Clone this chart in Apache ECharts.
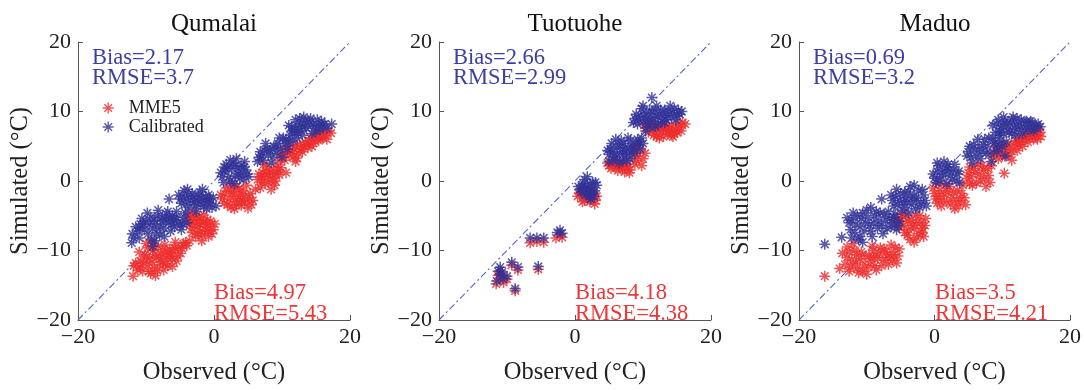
<!DOCTYPE html>
<html>
<head>
<meta charset="utf-8">
<script src="https://cdn.jsdelivr.net/npm/echarts@6/dist/echarts.min.js"></script>
<style>
html,body{margin:0;padding:0;background:#fff;}
#c{width:1084px;height:390px;}
</style>
</head>
<body>
<div id="c"></div>
<script>
// ---------- data ----------
const stations = ['Qumalai', 'Tuotuohe', 'Maduo'];
const statsCalibrated = [['2.17', '3.7'], ['2.66', '2.99'], ['0.69', '3.2']];
const statsMME5 = [['4.97', '5.43'], ['4.18', '4.38'], ['3.5', '4.21']];
const xTicks = [-20, 0, 20];
const yTicks = [-20, -10, 0, 10, 20];
const diagonal = [[-20, -20], [20, 20]];

const qumalaiMME5 = [
[-11.9,-13.7],[-11.8,-12.2],[-11.2,-12.8],[-10.8,-11.5],[-10.5,-13.0],[-10.2,-10.6],[-9.8,-12.1],[-9.5,-11.2],[-9.3,-13.3],[-9.0,-10.0],[-8.8,-12.5],[-8.5,-11.0],[-8.2,-9.4],[-8.0,-12.0],[-7.8,-10.5],[-7.5,-11.6],[-7.2,-9.2],[-7.0,-10.8],[-6.8,-12.2],[-6.5,-9.8],[-6.2,-11.1],[-6.0,-10.2],[-5.7,-8.8],[-5.5,-11.5],[-5.2,-9.6],[-4.9,-10.4],[-4.5,-9.0],[-4.0,-9.3],[-3.6,-8.6],[-10.0,-9.0],[-9.2,-8.6],[-11.0,-10.2],[-8.6,-13.6],[-7.4,-12.8],
[-11.5,-11.8],[-10.9,-12.4],[-10.4,-11.8],[-9.9,-10.9],[-9.6,-13.0],[-9.1,-11.7],[-8.7,-10.6],[-8.3,-12.9],[-7.9,-11.2],[-7.6,-9.9],[-7.1,-11.9],[-6.9,-10.2],[-6.4,-10.9],[-6.1,-12.3],[-5.8,-9.6],[-5.3,-10.8],[-4.7,-9.7],[-4.2,-8.9],[-9.7,-9.6],[-8.9,-9.4],
[-3.8,-5.0],[-3.5,-6.2],[-3.2,-7.4],[-3.0,-5.6],[-2.7,-8.0],[-2.5,-6.6],[-2.2,-5.2],[-2.0,-7.2],[-1.8,-8.6],[-1.6,-6.0],[-1.3,-7.0],[-1.0,-5.6],[-0.8,-8.0],[-0.6,-6.5],[-0.3,-7.6],[0.1,-6.2],[-2.9,-4.7],[-1.5,-4.9],
[-3.6,-5.6],[-3.3,-6.8],[-2.8,-6.0],[-2.4,-7.6],[-2.1,-6.2],[-1.9,-5.6],[-1.7,-7.8],[-1.2,-6.2],[-0.9,-7.2],[-0.5,-5.8],[-0.1,-7.0],[-2.6,-5.2],[-3.4,-4.8],
[1.0,-2.0],[1.5,-3.2],[1.8,-1.0],[2.2,-2.6],[2.5,-3.8],[2.8,-1.6],[3.1,-2.9],[3.4,-0.8],[3.7,-2.2],[4.0,-3.5],[4.3,-1.4],[4.6,-2.6],[5.0,-3.9],[5.3,-1.8],[5.7,-2.8],[6.1,-1.2],[3.0,-4.0],[4.8,-0.6],
[1.2,-2.6],[1.6,-1.8],[2.0,-3.4],[2.4,-1.4],[2.9,-2.2],[3.3,-3.4],[3.6,-1.2],[3.9,-2.8],[4.2,-2.0],[4.5,-3.2],[5.2,-2.4],[5.5,-3.4],[2.6,-0.4],
[6.4,0.2],[6.8,-1.0],[7.2,1.2],[7.5,-0.4],[7.8,2.0],[8.1,0.6],[8.4,-1.2],[8.7,1.6],[9.0,0.0],[9.3,2.4],[9.6,0.9],[8.0,-0.2],[9.8,1.9],[10.6,1.2],
[6.6,1.0],[7.0,-0.2],[7.4,0.6],[7.7,1.4],[8.2,1.2],[8.6,0.4],[8.9,-0.6],[9.1,1.0],[9.5,1.6],[7.3,2.4],[6.9,0.6],
[9.8,3.2],[10.2,4.4],[10.6,3.6],[11.0,5.0],[11.4,3.9],[11.8,4.6],[12.2,3.3],[12.6,5.2],[13.0,4.2],[13.4,5.6],[13.8,4.8],[14.2,6.2],[14.6,5.4],[15.0,6.8],[15.4,5.8],[15.8,6.4],[16.2,7.0],[16.6,6.0],[17.2,6.9],[12.0,2.8],
[10.0,3.8],[10.4,3.0],[10.8,4.2],[11.2,4.4],[11.6,3.4],[12.0,5.0],[12.4,4.0],[12.8,4.6],[13.2,5.0],[13.6,5.2],[14.0,5.8],[14.4,5.0],[14.8,6.2],[15.2,6.0],[15.6,6.8],[16.0,6.2],[16.4,6.6],[16.9,7.2]
];
const qumalaiCalibrated = [
[-12.1,-8.9],[-12.0,-7.6],[-11.5,-6.6],[-11.0,-8.2],[-10.6,-5.4],[-10.2,-7.0],[-9.8,-4.6],[-9.5,-6.2],[-9.2,-8.4],[-8.8,-5.6],[-8.5,-7.4],[-8.2,-4.2],[-7.9,-6.6],[-7.6,-5.2],[-7.3,-8.0],[-7.0,-4.8],[-6.7,-6.0],[-6.4,-7.2],[-6.1,-5.0],[-5.8,-6.6],[-5.5,-4.4],[-5.2,-5.8],[-4.8,-7.0],[-4.4,-5.2],[-4.0,-6.0],[-9.0,-9.4],[-10.8,-6.2],
[-11.8,-8.2],[-11.2,-7.2],[-10.9,-6.8],[-10.4,-6.2],[-10.0,-5.8],[-9.7,-7.6],[-9.3,-5.2],[-9.0,-6.8],[-8.6,-6.2],[-8.3,-5.0],[-8.0,-7.8],[-7.7,-5.8],[-7.4,-6.8],[-7.1,-5.6],[-6.8,-4.4],[-6.5,-5.4],[-6.2,-6.2],[-5.9,-5.6],[-5.6,-5.2],[-5.0,-6.4],[-4.6,-6.2],[-4.2,-4.6],[-8.7,-8.6],
[-6.6,-2.6],[-5.2,-2.0],[-4.8,-3.2],[-4.4,-1.4],[-4.0,-2.6],[-3.6,-3.8],[-3.2,-1.8],[-2.9,-3.0],[-2.6,-4.4],[-2.3,-2.2],[-2.0,-3.4],[-1.7,-1.2],[-1.4,-2.8],[-1.1,-4.0],[-0.8,-2.0],[-0.5,-3.2],[-0.1,-2.4],[0.3,-3.6],
[-5.0,-2.6],[-4.6,-2.2],[-4.2,-3.4],[-3.8,-2.0],[-3.4,-2.8],[-3.0,-2.2],[-2.7,-3.6],[-2.4,-2.8],[-2.1,-1.6],[-1.8,-2.6],[-1.5,-3.6],[-1.2,-2.2],[-0.9,-3.0],[-0.6,-2.6],[-0.3,-3.8],[-3.9,-1.2],
[1.0,1.2],[1.4,-0.2],[1.8,2.4],[2.2,0.6],[2.6,1.8],[3.0,-0.4],[3.3,3.2],[3.6,1.0],[4.0,2.2],[4.3,0.2],[4.7,1.6],[5.1,0.6],[2.4,3.0],[4.5,2.8],
[1.2,0.6],[1.6,1.4],[2.0,1.8],[2.4,0.0],[2.8,2.6],[3.2,0.8],[3.5,1.8],[3.8,0.4],[4.1,1.2],[4.4,2.0],[4.9,1.0],[1.5,2.0],[3.1,2.2],
[6.4,2.8],[6.8,4.2],[7.2,3.0],[7.6,5.4],[8.0,3.8],[8.4,2.6],[8.8,5.0],[9.2,4.0],[9.6,6.2],[10.0,3.4],[10.4,5.4],[10.8,4.6],[11.2,6.6],[11.6,5.8],[11.0,8.0],[11.5,7.2],[12.0,8.8],[12.4,7.0],[12.8,8.2],[13.2,9.2],[13.6,7.6],[14.0,8.6],[14.4,6.8],[14.8,7.8],[15.2,8.8],[15.6,7.4],[16.0,8.0],[16.6,7.6],[17.3,8.2],[12.2,6.2],[13.0,6.6],
[6.6,3.4],[7.0,3.6],[7.4,4.4],[7.8,4.6],[8.2,4.4],[8.6,3.4],[9.0,4.8],[9.4,5.4],[9.8,4.6],[10.2,6.2],[10.6,6.0],[11.0,5.6],[11.4,7.8],[11.8,7.0],[12.2,8.0],[12.6,9.0],[13.0,7.8],[13.4,8.6],[13.8,8.0],[14.2,9.0],[14.6,8.2],[15.0,7.2],[15.4,8.0],[15.8,8.6],[16.3,8.2],[12.0,7.4],[12.8,7.2]
];

const tuotuoheMME5 = [
[-11.3,-13.6],[-11.0,-14.0],[-11.6,-14.8],[-10.5,-14.6],[-10.0,-14.1],[-11.0,-12.9],[-10.7,-13.6],[-9.3,-12.1],[-8.4,-12.8],[-5.4,-12.7],[-8.8,-15.8],[-6.6,-8.9],[-5.6,-8.7],[-4.6,-8.8],[-2.8,-8.2],[-2.2,-7.7],[-1.9,-8.1],
[0.4,-2.2],[0.9,-1.4],[1.4,-2.8],[1.8,-1.6],[2.2,-3.0],[2.6,-2.0],[2.9,-3.3],[3.2,-2.2],[1.5,-1.0],[2.4,-1.2],
[0.7,-1.8],[1.2,-2.2],[1.7,-2.4],[2.0,-2.0],[2.5,-2.6],[2.8,-1.6],[3.0,-2.8],[1.1,-3.0],
[4.8,2.6],[5.3,1.8],[5.8,2.4],[6.3,1.5],[6.8,2.2],[7.3,1.3],[7.8,2.0],[8.1,1.6],[8.6,4.6],[9.0,3.0],[9.4,5.2],[9.8,2.2],[10.3,4.0],[8.8,2.4],
[5.0,2.2],[5.5,2.6],[6.0,1.9],[6.5,2.4],[7.0,1.7],[7.5,2.2],[8.0,1.2],[8.4,3.8],[8.8,5.0],[9.2,3.6],[9.6,4.4],[10.0,3.2],[6.2,2.8],[7.2,2.6],
[10.2,8.0],[10.8,7.0],[11.2,8.4],[11.6,6.6],[12.0,7.6],[12.4,6.2],[12.8,7.2],[13.2,8.2],[13.6,6.8],[14.0,7.6],[14.4,6.4],[14.8,7.4],[15.2,8.2],[15.6,7.2],[16.2,8.2],[13.0,6.4],
[10.4,7.6],[10.6,8.4],[11.0,7.8],[11.4,7.2],[11.8,8.0],[12.2,6.8],[12.6,7.8],[13.0,7.4],[13.4,7.6],[13.8,7.2],[14.2,8.0],[14.6,6.8],[15.0,7.0],[15.4,7.8],[15.8,8.4],[12.0,6.4],[14.2,6.6]
];
const tuotuoheCalibrated = [
[-11.3,-13.0],[-11.0,-13.4],[-11.5,-14.4],[-10.6,-14.1],[-10.0,-13.7],[-11.0,-12.4],[-10.7,-13.1],[-9.3,-11.7],[-8.4,-12.4],[-5.4,-12.3],[-8.8,-15.5],[-6.6,-8.2],[-5.6,-8.2],[-4.6,-8.2],[-2.6,-7.4],[-2.2,-7.1],[-1.9,-7.5],
[0.5,-0.8],[0.9,-1.6],[1.3,-0.4],[1.6,-2.0],[2.0,-1.0],[2.3,-2.6],[2.6,-0.2],[2.9,-1.4],[3.2,-0.6],[1.8,0.6],[2.4,-1.8],
[0.7,-1.2],[1.1,-0.6],[1.5,-1.2],[1.9,-1.8],[2.2,-0.4],[2.5,-1.4],[2.8,-2.2],[3.0,-0.2],[1.4,0.2],[2.1,-2.2],
[4.8,4.4],[5.0,2.8],[5.4,5.4],[5.8,3.6],[6.2,4.8],[6.5,2.6],[6.8,5.8],[7.1,3.8],[7.4,4.8],[7.8,6.2],[8.1,3.2],[8.4,5.0],[8.8,4.0],[9.2,6.0],[9.6,4.6],[10.0,5.4],[6.0,6.0],[7.6,2.9],
[5.0,3.8],[5.2,4.6],[5.6,4.2],[6.0,3.4],[6.4,5.2],[6.6,4.0],[7.0,4.6],[7.2,5.4],[7.6,3.8],[8.0,4.4],[8.2,5.8],[8.6,4.6],[9.0,5.2],[9.4,5.6],[9.8,6.2],[5.6,3.0],[7.0,3.0],
[8.6,8.4],[9.0,9.6],[9.4,8.8],[9.8,10.4],[10.2,9.2],[10.6,8.2],[11.0,10.2],[11.3,12.0],[11.6,9.0],[12.0,10.8],[12.4,9.6],[12.8,8.6],[13.2,10.2],[13.6,9.4],[14.0,10.8],[14.4,9.8],[14.8,8.8],[15.2,10.2],[15.7,10.0],[10.4,7.2],[11.8,7.8],
[8.8,9.0],[9.2,8.2],[9.6,9.4],[10.0,8.6],[10.4,9.8],[10.8,9.2],[11.2,8.6],[11.4,9.8],[11.8,10.2],[12.2,9.2],[12.6,10.2],[13.0,9.4],[13.4,8.8],[13.8,10.0],[14.2,9.2],[14.6,10.4],[15.0,9.4],[15.4,9.6],[11.0,7.8],[12.2,8.2],[13.2,8.4],[10.0,10.8]
];

const maduoMME5 = [
[-16.2,-13.7],[-14.0,-12.6],[-13.6,-10.4],[-12.9,-9.5],[-12.9,-11.0],[-12.4,-12.4],[-12.0,-9.0],[-11.6,-11.8],[-11.2,-13.2],[-10.8,-10.2],[-10.4,-12.0],[-10.0,-13.4],[-9.6,-10.8],[-9.2,-9.4],[-8.8,-12.2],[-8.4,-11.0],[-8.0,-9.6],[-7.6,-11.4],[-7.2,-10.2],[-6.8,-12.0],[-6.4,-9.2],[-6.0,-10.6],[-5.6,-11.8],[-5.2,-9.8],[-11.5,-10.6],[-9.0,-11.0],
[-13.2,-12.0],[-12.6,-10.2],[-12.2,-11.4],[-11.8,-10.0],[-11.4,-12.6],[-11.0,-11.2],[-10.6,-13.0],[-10.2,-10.8],[-9.8,-12.4],[-9.4,-11.6],[-9.0,-10.0],[-8.6,-12.8],[-8.2,-10.4],[-7.8,-12.2],[-7.4,-9.8],[-7.0,-11.0],[-6.6,-10.6],[-6.2,-11.4],[-5.8,-9.6],[-5.4,-10.8],[-12.6,-13.0],
[-5.6,-5.2],[-5.2,-6.6],[-4.8,-4.8],[-4.4,-7.4],[-4.0,-5.8],[-3.6,-8.4],[-3.2,-6.4],[-2.8,-4.9],[-2.4,-7.6],[-2.0,-6.0],[-1.6,-8.0],[-1.3,-5.4],[-3.0,-8.8],[-1.8,-6.8],
[-5.4,-6.0],[-5.0,-5.4],[-4.6,-6.4],[-4.2,-5.0],[-3.8,-7.0],[-3.4,-5.6],[-3.0,-6.8],[-2.6,-6.0],[-2.2,-5.0],[-1.8,-7.4],[-1.4,-6.4],[-4.0,-7.8],[-2.6,-8.2],
[-0.2,-1.0],[0.2,-2.6],[0.6,-0.4],[1.0,-3.6],[1.4,-1.8],[1.8,-3.0],[2.2,-0.8],[2.6,-2.4],[3.0,-4.0],[3.4,-1.4],[3.8,-2.8],[4.2,-0.6],[4.6,-3.4],[2.0,-1.6],
[0.0,-1.8],[0.4,-3.2],[0.8,-1.4],[1.2,-2.6],[1.6,-0.6],[2.4,-3.4],[2.8,-1.6],[3.2,-2.8],[3.6,-3.6],[4.0,-1.8],[4.4,-2.4],[0.6,-2.2],
[4.8,0.4],[5.2,2.0],[5.6,-0.6],[6.0,1.2],[6.4,2.4],[6.8,0.0],[7.2,1.6],[7.6,-0.8],[8.0,0.8],[8.4,2.2],[10.3,1.1],[6.2,-0.3],
[5.0,1.2],[5.4,0.6],[5.8,1.8],[6.6,1.0],[7.0,2.2],[7.4,0.4],[7.8,1.8],[8.2,-0.2],[5.2,-0.4],
[8.6,3.4],[9.0,4.8],[9.4,3.2],[9.8,4.2],[10.2,5.2],[10.6,3.6],[11.0,4.6],[11.4,3.0],[11.8,5.4],[12.2,4.4],[12.6,6.2],[13.0,5.0],[13.4,6.8],[13.8,5.6],[14.2,7.2],[14.6,6.0],[15.0,6.6],[15.4,7.4],[15.7,6.4],
[8.8,4.0],[9.2,4.4],[9.6,5.0],[10.0,3.6],[10.4,4.4],[10.8,5.2],[11.2,3.8],[11.6,4.6],[12.0,5.8],[12.4,5.2],[12.8,5.6],[13.2,6.0],[13.6,6.2],[14.0,6.6],[14.4,6.4],[14.8,7.0],[15.2,6.0],[15.6,7.0]
];
const maduoCalibrated = [
[-16.2,-9.1],[-13.7,-8.1],[-12.9,-5.3],[-12.4,-7.0],[-12.0,-4.6],[-11.6,-6.2],[-11.2,-8.4],[-10.8,-5.4],[-10.4,-7.2],[-10.0,-4.2],[-9.6,-6.4],[-9.2,-8.0],[-8.8,-5.0],[-8.4,-6.8],[-8.0,-4.6],[-7.6,-7.6],[-7.2,-5.6],[-6.8,-4.4],[-6.4,-6.6],[-6.0,-5.2],[-5.6,-7.0],[-5.2,-5.8],[-10.6,-8.8],[-9.4,-3.8],
[-12.6,-6.0],[-12.2,-5.6],[-11.8,-7.4],[-11.4,-5.0],[-11.0,-6.6],[-10.6,-4.6],[-10.2,-6.0],[-9.8,-5.2],[-9.4,-7.2],[-9.0,-6.0],[-8.6,-4.4],[-8.2,-5.8],[-7.8,-6.4],[-7.4,-4.8],[-7.0,-6.8],[-6.6,-5.4],[-6.2,-6.0],[-5.8,-4.8],[-5.4,-6.4],[-11.0,-8.0],[-12.2,-8.2],
[-7.8,-2.6],[-6.4,-2.0],[-6.0,-3.6],[-5.6,-1.2],[-5.2,-2.8],[-4.8,-4.2],[-4.4,-1.6],[-4.0,-3.0],[-3.6,-0.8],[-3.2,-2.4],[-2.8,-4.0],[-2.4,-1.4],[-2.0,-3.2],[-1.6,-2.0],[-1.2,-3.6],[-3.8,-4.6],
[-6.2,-2.8],[-5.8,-2.2],[-5.4,-3.4],[-5.0,-1.8],[-4.6,-3.0],[-4.2,-2.4],[-3.8,-1.6],[-3.4,-3.4],[-3.0,-2.2],[-2.6,-2.8],[-2.2,-3.8],[-1.8,-1.2],[-1.4,-2.8],[-4.4,-3.8],[-3.0,-0.6],
[-0.2,1.0],[0.2,-0.2],[0.6,2.2],[1.0,0.6],[1.4,2.8],[1.8,-0.4],[2.2,1.6],[2.6,0.2],[3.0,2.4],[3.4,1.0],[3.7,-0.2],[1.2,1.6],
[0.0,0.4],[0.4,1.4],[0.8,0.0],[1.6,1.0],[2.0,2.4],[2.4,0.8],[2.8,1.6],[3.2,0.0],[3.6,1.4],[0.4,2.6],[1.8,2.0],
[4.8,3.6],[5.2,5.0],[5.6,2.6],[6.0,4.4],[6.4,6.0],[6.8,3.2],[7.2,5.2],[7.6,4.0],[8.0,6.2],[8.4,2.8],[8.8,5.4],[9.2,4.2],[9.6,6.6],[10.0,5.0],[10.4,3.6],[8.6,8.0],[9.0,7.0],[9.4,8.8],[9.8,7.6],[10.2,9.2],[10.6,8.2],[11.0,7.0],[11.4,8.8],[11.8,7.6],[12.2,9.0],[12.6,8.0],[13.0,6.8],[13.4,8.4],[13.8,7.4],[14.2,8.6],[14.6,7.2],[15.0,8.0],[15.6,7.8],[12.0,6.6],
[5.0,4.2],[5.4,3.4],[5.8,5.2],[6.2,3.6],[6.6,4.8],[7.0,4.2],[7.4,6.0],[7.8,5.0],[8.2,4.0],[8.6,6.2],[9.0,5.6],[9.4,4.8],[9.8,5.8],[10.2,6.8],[10.6,5.6],[9.2,8.2],[9.6,7.0],[10.0,8.0],[10.4,8.6],[10.8,7.4],[11.2,8.2],[11.6,9.2],[12.0,8.2],[12.4,7.4],[12.8,8.8],[13.2,7.6],[13.6,8.6],[14.0,7.8],[14.4,8.4],[14.8,7.6],[15.3,8.2],[11.4,6.8]
];

const mme5Sets = [qumalaiMME5, tuotuoheMME5, maduoMME5];
const calibratedSets = [qumalaiCalibrated, tuotuoheCalibrated, maduoCalibrated];

// ---------- styles / layout ----------
const RED = '#ee2b2b';
const BLUE = '#2f3196';
const TXT_BLUE = '#3b3fa5';
const TXT_RED = '#ef3535';
const FONT = '"Liberation Serif", "Times New Roman", serif';
const STAR = 'path://M5,0L5,10M0,5L10,5M1.5,1.5L8.5,8.5M1.5,8.5L8.5,1.5';
const gridLefts = [78, 439, 799];
const GRID_TOP = 42, GRID_W = 272, GRID_H = 284;

const fmt = v => v < 0 ? '\u2212' + Math.abs(v) : String(v);

const grids = [], xAxes = [], yAxes = [], series = [], graphics = [];
gridLefts.forEach((left, i) => {
  grids.push({left: left, top: GRID_TOP, width: GRID_W, height: GRID_H});
  xAxes.push({
    type: 'value', gridIndex: i, min: xTicks[0], max: xTicks[xTicks.length - 1], interval: xTicks[1] - xTicks[0],
    axisLine: {show: true, onZero: false, lineStyle: {color: '#555', width: 1}},
    axisTick: {show: true, inside: true, length: 5, lineStyle: {color: '#555'}},
    splitLine: {show: false},
    axisLabel: {fontFamily: FONT, fontSize: 22, color: '#222', margin: 6, formatter: fmt},
    name: 'Observed (°C)', nameLocation: 'middle', nameGap: 40,
    nameTextStyle: {fontFamily: FONT, fontSize: 24.5, color: '#222'}
  });
  yAxes.push({
    type: 'value', gridIndex: i, min: yTicks[0], max: yTicks[yTicks.length - 1], interval: yTicks[1] - yTicks[0],
    axisLine: {show: true, onZero: false, lineStyle: {color: '#555', width: 1}},
    axisTick: {show: true, inside: true, length: 5, lineStyle: {color: '#555'}},
    splitLine: {show: false},
    axisLabel: {fontFamily: FONT, fontSize: 22, color: '#222', margin: 7, formatter: fmt},
    name: 'Simulated (°C)', nameLocation: 'middle', nameGap: 45,
    nameTextStyle: {fontFamily: FONT, fontSize: 24.5, color: '#222'}
  });
  series.push({
    type: 'line', xAxisIndex: i, yAxisIndex: i, data: diagonal, symbol: 'none', silent: true,
    lineStyle: {color: '#5563c8', width: 1.1, type: [7, 3, 2, 3]}, z: 1
  });
  series.push({
    name: 'MME5', type: 'scatter', xAxisIndex: i, yAxisIndex: i, data: mme5Sets[i],
    symbol: STAR, symbolSize: 11,
    itemStyle: {color: 'rgba(0,0,0,0)', borderColor: RED, borderWidth: 1.5}, z: 2
  });
  series.push({
    name: 'Calibrated', type: 'scatter', xAxisIndex: i, yAxisIndex: i, data: calibratedSets[i],
    symbol: STAR, symbolSize: 11,
    itemStyle: {color: 'rgba(0,0,0,0)', borderColor: BLUE, borderWidth: 1.5}, z: 3
  });
  graphics.push({type: 'text', x: left + GRID_W / 2, y: 24,
    style: {text: stations[i], font: '25px ' + FONT, fill: '#111', textAlign: 'center', textVerticalAlign: 'middle'}});
  graphics.push({type: 'text', x: left + 14, y: 58,
    style: {text: 'Bias=' + statsCalibrated[i][0], font: '22.5px ' + FONT, fill: TXT_BLUE, textAlign: 'left', textVerticalAlign: 'middle'}});
  graphics.push({type: 'text', x: left + 14, y: 78,
    style: {text: 'RMSE=' + statsCalibrated[i][1], font: '22.5px ' + FONT, fill: TXT_BLUE, textAlign: 'left', textVerticalAlign: 'middle'}});
  graphics.push({type: 'text', x: left + GRID_W / 2, y: 293,
    style: {text: 'Bias=' + statsMME5[i][0], font: '22.5px ' + FONT, fill: TXT_RED, textAlign: 'left', textVerticalAlign: 'middle'}});
  graphics.push({type: 'text', x: left + GRID_W / 2, y: 314,
    style: {text: 'RMSE=' + statsMME5[i][1], font: '22.5px ' + FONT, fill: TXT_RED, textAlign: 'left', textVerticalAlign: 'middle'}});
});

const chart = echarts.init(document.getElementById('c'), null, {renderer: 'canvas'});
chart.setOption({
  animation: false,
  backgroundColor: '#fff',
  grid: grids,
  xAxis: xAxes,
  yAxis: yAxes,
  legend: {
    orient: 'vertical', left: 102, top: 99, padding: 0, itemGap: 1,
    itemWidth: 11, itemHeight: 11, selectedMode: false,
    textStyle: {fontFamily: FONT, fontSize: 18, color: '#222', padding: [0, 0, 0, 10]},
    data: [
      {name: 'MME5', icon: STAR, itemStyle: {color: 'rgba(0,0,0,0)', borderColor: RED, borderWidth: 1.4}},
      {name: 'Calibrated', icon: STAR, itemStyle: {color: 'rgba(0,0,0,0)', borderColor: BLUE, borderWidth: 1.4}}
    ]
  },
  graphic: graphics,
  series: series
});
</script>
</body>
</html>
